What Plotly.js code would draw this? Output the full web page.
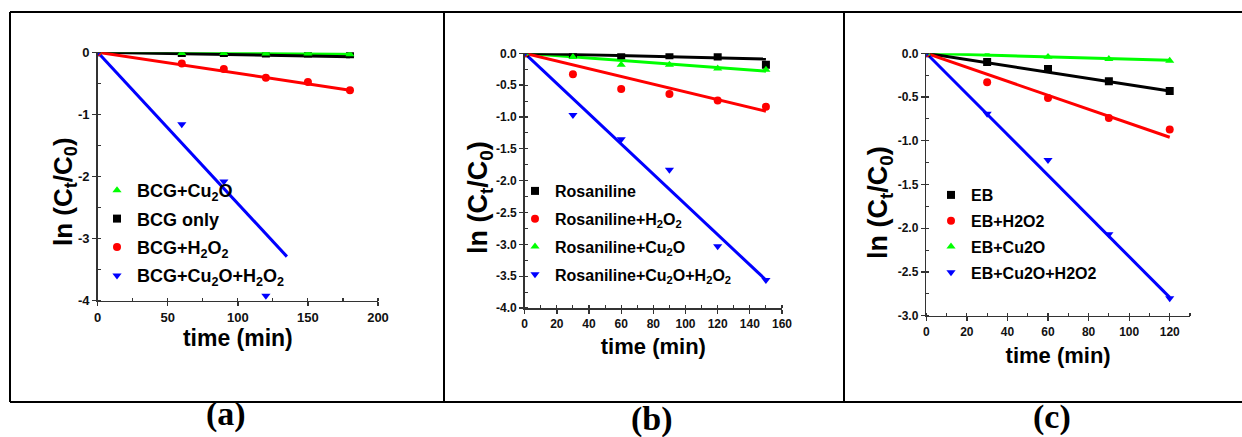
<!DOCTYPE html>
<html>
<head>
<meta charset="utf-8">
<script src="https://cdn.plot.ly/plotly-3.0.1.min.js"></script>
<style>html,body{margin:0;padding:0;background:#fff;}#chart{width:1242px;height:437px;}</style>
</head>
<body>
<div id="chart"></div>
<script>
// ---------- Panel (a): BCG ----------
const timeA = [0, 60, 90, 120, 150, 180];
const bcgCu2O = [0, -0.01, -0.01, -0.02, -0.02, -0.03];
const bcgOnly = [0, -0.01, -0.01, -0.02, -0.02, -0.03];
const bcgH2O2 = [0, -0.18, -0.27, -0.41, -0.48, -0.61];
const timeABlue = [0, 60, 90, 120];
const bcgCu2OH2O2 = [0, -1.16, -2.08, -3.92];
// fitted lines (start/end)
const fitA_time = [0, 180];
const fitA_Cu2O = [0, -0.03];
const fitA_only = [0, -0.07];
const fitA_H2O2 = [0, -0.61];
const fitA_blue_time = [0, 135];
const fitA_blue = [0, -3.29];

// ---------- Panel (b): Rosaniline ----------
const timeB = [0, 30, 60, 90, 120, 150];
const ros = [0, -0.01, -0.03, -0.03, -0.05, -0.18];
const rosH2O2 = [0, -0.33, -0.56, -0.64, -0.74, -0.84];
const rosCu2O = [0, -0.06, -0.18, -0.18, -0.24, -0.26];
const rosCu2OH2O2 = [0, -0.97, -1.35, -1.83, -3.03, -3.56];
const fitB_time = [0, 150];
const fitB_ros = [0, -0.09];
const fitB_H2O2 = [0, -0.91];
const fitB_Cu2O = [0, -0.28];
const fitB_blue = [0, -3.56];

// ---------- Panel (c): EB ----------
const timeC = [0, 30, 60, 90, 120];
const eb = [0, -0.10, -0.18, -0.32, -0.43];
const ebH2O2 = [0, -0.33, -0.51, -0.74, -0.87];
const ebCu2O = [0, -0.01, -0.04, -0.065, -0.085];
const ebCu2OH2O2 = [0, -0.69, -1.22, -2.07, -2.80];
const fitC_time = [0, 120];
const fitC_eb = [0, -0.43];
const fitC_H2O2 = [0, -0.96];
const fitC_Cu2O = [0, -0.08];
const fitC_blue = [0, -2.79];

// ---------- tick labels ----------
const tickA_x = [0, 50, 100, 150, 200];
const tickA_xText = ["0", "50", "100", "150", "200"];
const tickA_y = [0, -1, -2, -3, -4];
const tickA_yText = ["0", "-1", "-2", "-3", "-4"];
const tickB_x = [0, 20, 40, 60, 80, 100, 120, 140, 160];
const tickB_xText = ["0", "20", "40", "60", "80", "100", "120", "140", "160"];
const tickB_y = [0, -0.5, -1, -1.5, -2, -2.5, -3, -3.5, -4];
const tickB_yText = ["0.0", "-0.5", "-1.0", "-1.5", "-2.0", "-2.5", "-3.0", "-3.5", "-4.0"];
const tickC_x = [0, 20, 40, 60, 80, 100, 120];
const tickC_xText = ["0", "20", "40", "60", "80", "100", "120"];
const tickC_y = [0, -0.5, -1, -1.5, -2, -2.5, -3];
const tickC_yText = ["0.0", "-0.5", "-1.0", "-1.5", "-2.0", "-2.5", "-3.0"];

// ---------- styling ----------
const W = 1242, H = 437;
const fx = v => v / W;
const fy = v => 1 - v / H;
const SANS = 'Arial, "Liberation Sans", sans-serif';
const SERIF = '"Times New Roman", "Liberation Serif", serif';
const GREEN = '#00ff00', BLACK = '#000000', RED = '#ff0000', BLUE = '#0000ff';
const LW = 3;

function pts(x, y, name, color, symbol, xa, ya, leg, rank) {
  return {x: x, y: y, name: name, type: 'scatter', mode: 'markers',
    marker: {color: color, symbol: symbol, size: 8, line: {width: 0}},
    xaxis: xa, yaxis: ya, legend: leg, legendrank: rank, legendgroup: leg + rank};
}
function fit(x, y, color, xa, ya) {
  return {x: x, y: y, type: 'scatter', mode: 'lines', line: {color: color, width: LW},
    showlegend: false, hoverinfo: 'skip', xaxis: xa, yaxis: ya};
}

const data = [
  // panel a
  pts(timeA, bcgOnly, 'BCG only', BLACK, 'square', 'x', 'y', 'legend', 2),
  fit(fitA_time, fitA_Cu2O, GREEN, 'x', 'y'),
  fit(fitA_time, fitA_only, BLACK, 'x', 'y'),
  fit(fitA_time, fitA_H2O2, RED, 'x', 'y'),
  fit(fitA_blue_time, fitA_blue, BLUE, 'x', 'y'),
  pts(timeA, bcgCu2O, 'BCG+Cu<sub>2</sub>O', GREEN, 'triangle-up', 'x', 'y', 'legend', 1),
  pts(timeA, bcgH2O2, 'BCG+H<sub>2</sub>O<sub>2</sub>', RED, 'circle', 'x', 'y', 'legend', 3),
  pts(timeABlue, bcgCu2OH2O2, 'BCG+Cu<sub>2</sub>O+H<sub>2</sub>O<sub>2</sub>', BLUE, 'triangle-down', 'x', 'y', 'legend', 4),
  // panel b
  fit(fitB_time, fitB_Cu2O, GREEN, 'x2', 'y2'),
  fit(fitB_time, fitB_ros, BLACK, 'x2', 'y2'),
  fit(fitB_time, fitB_H2O2, RED, 'x2', 'y2'),
  fit(fitB_time, fitB_blue, BLUE, 'x2', 'y2'),
  pts(timeB, ros, 'Rosaniline', BLACK, 'square', 'x2', 'y2', 'legend2', 1),
  pts(timeB, rosH2O2, 'Rosaniline+H<sub>2</sub>O<sub>2</sub>', RED, 'circle', 'x2', 'y2', 'legend2', 2),
  pts(timeB, rosCu2O, 'Rosaniline+Cu<sub>2</sub>O', GREEN, 'triangle-up', 'x2', 'y2', 'legend2', 3),
  pts(timeB, rosCu2OH2O2, 'Rosaniline+Cu<sub>2</sub>O+H<sub>2</sub>O<sub>2</sub>', BLUE, 'triangle-down', 'x2', 'y2', 'legend2', 4),
  // panel c
  fit(fitC_time, fitC_Cu2O, GREEN, 'x3', 'y3'),
  fit(fitC_time, fitC_eb, BLACK, 'x3', 'y3'),
  fit(fitC_time, fitC_H2O2, RED, 'x3', 'y3'),
  fit(fitC_time, fitC_blue, BLUE, 'x3', 'y3'),
  pts(timeC, eb, 'EB', BLACK, 'square', 'x3', 'y3', 'legend3', 1),
  pts(timeC, ebH2O2, 'EB+H2O2', RED, 'circle', 'x3', 'y3', 'legend3', 2),
  pts(timeC, ebCu2O, 'EB+Cu2O', GREEN, 'triangle-up', 'x3', 'y3', 'legend3', 3),
  pts(timeC, ebCu2OH2O2, 'EB+Cu2O+H2O2', BLUE, 'triangle-down', 'x3', 'y3', 'legend3', 4)
];

function axis(domain, range, tv, tt, minorDtick, fontSize, anchor, extra) {
  return Object.assign({
    domain: domain, range: range, anchor: anchor,
    showline: true, linecolor: '#333', linewidth: 1.5, mirror: false,
    ticks: 'outside', ticklen: 4, tickwidth: 1.3, tickcolor: '#333',
    tickvals: tv, ticktext: tt,
    minor: {ticks: 'inside', ticklen: 3, tickwidth: 1.1, tickcolor: '#333', dtick: minorDtick, showgrid: false},
    showgrid: false, zeroline: false, fixedrange: true,
    tickfont: {family: SANS, size: fontSize, color: '#111', weight: 'bold'}
  }, extra || {});
}
function xtitle(size, standoff) {
  return {title: {text: 'time (min)', font: {family: SANS, size: size, color: '#000', weight: 'bold'}, standoff: standoff}};
}

function legend(x, y, size, gap) {
  return {x: fx(x), y: fy(y), xanchor: 'left', yanchor: 'top', bgcolor: 'rgba(0,0,0,0)',
    borderwidth: 0, traceorder: 'grouped', tracegroupgap: gap, itemwidth: 30,
    font: {family: SANS, size: size, color: '#000', weight: 'bold'}};
}

function ytitleAnn(x, y, size) {
  return {text: 'ln (C<sub>t</sub>/C<sub>0</sub>)', x: fx(x), y: fy(y), xref: 'paper', yref: 'paper',
    showarrow: false, textangle: -90, xanchor: 'center', yanchor: 'middle',
    font: {family: SANS, size: size, color: '#000', weight: 'bold'}};
}
function labelAnn(t, x, y) {
  return {text: t, x: fx(x), y: fy(y), xref: 'paper', yref: 'paper', showarrow: false,
    xanchor: 'center', yanchor: 'middle', font: {family: SERIF, size: 34, color: '#000', weight: 'bold'}};
}
function line(x0, y0, x1, y1) {
  return {type: 'line', xref: 'paper', yref: 'paper', x0: fx(x0), y0: fy(y0), x1: fx(x1), y1: fy(y1),
    line: {color: '#000', width: 2}};
}

const layout = {
  width: W, height: H, margin: {l: 0, r: 0, t: 0, b: 0},
  paper_bgcolor: '#fff', plot_bgcolor: 'rgba(0,0,0,0)', showlegend: true,
  xaxis: axis([fx(97.7), fx(378)], [0, 200], tickA_x, tickA_xText, 25, 13, 'y', xtitle(23, 6)),
  yaxis: axis([fy(300.7), fy(52.3)], [-4, 0], tickA_y, tickA_yText, 0.5, 13, 'x'),
  xaxis2: axis([fx(524.7), fx(782)], [0, 160], tickB_x, tickB_xText, 10, 12, 'y2', xtitle(22, 8)),
  yaxis2: axis([fy(308), fy(53.3)], [-4, 0], tickB_y, tickB_yText, 0.25, 12, 'x2'),
  xaxis3: axis([fx(926.3), fx(1190)], [0, 130], tickC_x, tickC_xText, 10, 12, 'y3', xtitle(22, 10)),
  yaxis3: axis([fy(315.7), fy(53.3)], [-3, 0], tickC_y, tickC_yText, 0.25, 12, 'x3'),
  legend: legend(97, 172, 18, 2),
  legend2: legend(515, 174, 16, 4),
  legend3: legend(931, 178, 16, 2),
  annotations: [
    ytitleAnn(65, 192, 26),
    ytitleAnn(480, 198, 27),
    ytitleAnn(880, 203, 27),
    labelAnn('(a)', 226, 414),
    labelAnn('(b)', 652, 419),
    labelAnn('(c)', 1052, 417)
  ],
  shapes: [
    line(10, 12, 1242, 12),
    line(10, 402, 1242, 402),
    line(10, 12, 10, 402),
    line(444, 12, 444, 402),
    line(844, 12, 844, 402)
  ]
};

Plotly.newPlot('chart', data, layout, {displayModeBar: false, staticPlot: true});
</script>
</body>
</html>
